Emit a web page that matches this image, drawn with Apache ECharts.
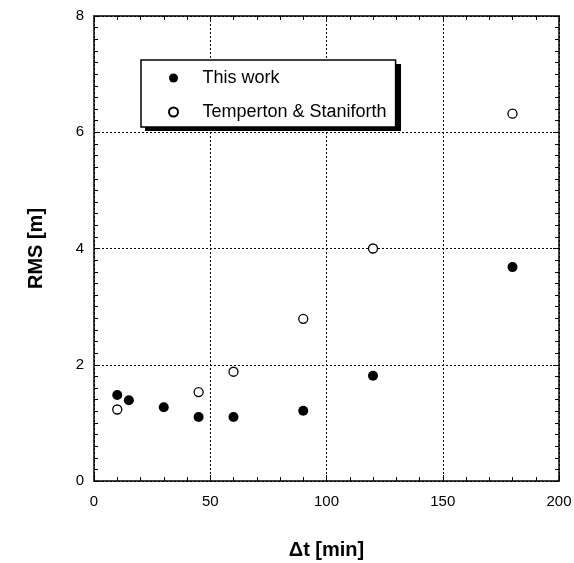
<!DOCTYPE html>
<html>
<head>
<meta charset="utf-8">
<title>RMS vs time step</title>
<script src="https://cdn.jsdelivr.net/npm/echarts@6/dist/echarts.min.js"></script>
<style>
  html, body { margin: 0; padding: 0; background: #fff; }
  #main { width: 574px; height: 563px; }
</style>
</head>
<body>
<div id="main"></div>
<script>
// data
var thisWorkX = [10, 15, 30, 45, 60, 90, 120, 180];
var thisWorkY = [1.48, 1.39, 1.27, 1.10, 1.10, 1.21, 1.81, 3.68];
var tsX = [10, 45, 60, 90, 120, 180];
var tsY = [1.23, 1.53, 1.88, 2.79, 4.00, 6.32];
var seriesNames = ['This work', 'Temperton & Staniforth'];

function pairs(xs, ys) {
  return xs.map(function (x, i) { return [x, ys[i]]; });
}

var font = 'Liberation Sans, Arial, sans-serif';
var axisLine = { show: true, onZero: false, lineStyle: { color: '#000', width: 1.5 } };
var tick = { show: true, inside: true, length: 6, lineStyle: { color: '#000', width: 1 } };
var minor = function (n) {
  return { show: true, splitNumber: n, length: 4, lineStyle: { color: '#000', width: 1 } };
};
var grid = { show: true, lineStyle: { color: '#000', width: 1, type: [2, 2] } };

var chart = echarts.init(document.getElementById('main'));
chart.setOption({
  animation: false,
  backgroundColor: '#fff',
  grid: { left: 94, right: 15, top: 16, bottom: 82, outerBoundsMode: 'none' },
  // drop shadow behind the legend box
  graphic: [{
    type: 'rect', left: 145, top: 64, z: 3,
    shape: { width: 256, height: 67 },
    style: { fill: '#000' }
  }],
  legend: {
    orient: 'vertical',
    left: 141, top: 60, z: 5,
    data: seriesNames,
    itemWidth: 48, itemHeight: 9,
    itemGap: 14,
    padding: [8, 9, 5, 27],
    backgroundColor: '#fff',
    borderColor: '#000', borderWidth: 1.5,
    textStyle: { fontFamily: font, fontSize: 18, color: '#000', lineHeight: 20 }
  },
  xAxis: [{
    type: 'value', min: 0, max: 200, interval: 50,
    name: 'Δt [min]', nameLocation: 'middle', nameGap: 59,
    nameTextStyle: { fontFamily: font, fontSize: 20, fontWeight: 'bold', color: '#000' },
    axisLine: axisLine, axisTick: tick, minorTick: minor(5), splitLine: grid,
    axisLabel: { fontFamily: font, fontSize: 15, color: '#000', margin: 13 }
  }, {
    type: 'value', position: 'top', min: 0, max: 200, interval: 50,
    axisLine: axisLine, axisTick: tick, minorTick: minor(5),
    splitLine: { show: false }, axisLabel: { show: false }
  }],
  yAxis: [{
    type: 'value', min: 0, max: 8, interval: 2,
    name: 'RMS [m]', nameLocation: 'middle', nameGap: 48,
    nameTextStyle: { fontFamily: font, fontSize: 20, fontWeight: 'bold', color: '#000' },
    axisLine: axisLine, axisTick: tick, minorTick: minor(10), splitLine: grid,
    axisLabel: { fontFamily: font, fontSize: 15, color: '#000', margin: 10 }
  }, {
    type: 'value', position: 'right', min: 0, max: 8, interval: 2,
    axisLine: axisLine, axisTick: tick, minorTick: minor(10),
    splitLine: { show: false }, axisLabel: { show: false }
  }],
  series: [{
    name: seriesNames[0],
    type: 'scatter',
    symbol: 'circle', symbolSize: 10,
    itemStyle: { color: '#000', opacity: 1 },
    data: pairs(thisWorkX, thisWorkY),
    z: 3
  }, {
    name: seriesNames[1],
    type: 'scatter',
    symbol: 'circle', symbolSize: 9,
    itemStyle: { color: '#fff', borderColor: '#000', borderWidth: 1.3, opacity: 1 },
    data: pairs(tsX, tsY),
    z: 3
  }]
});
</script>
</body>
</html>
